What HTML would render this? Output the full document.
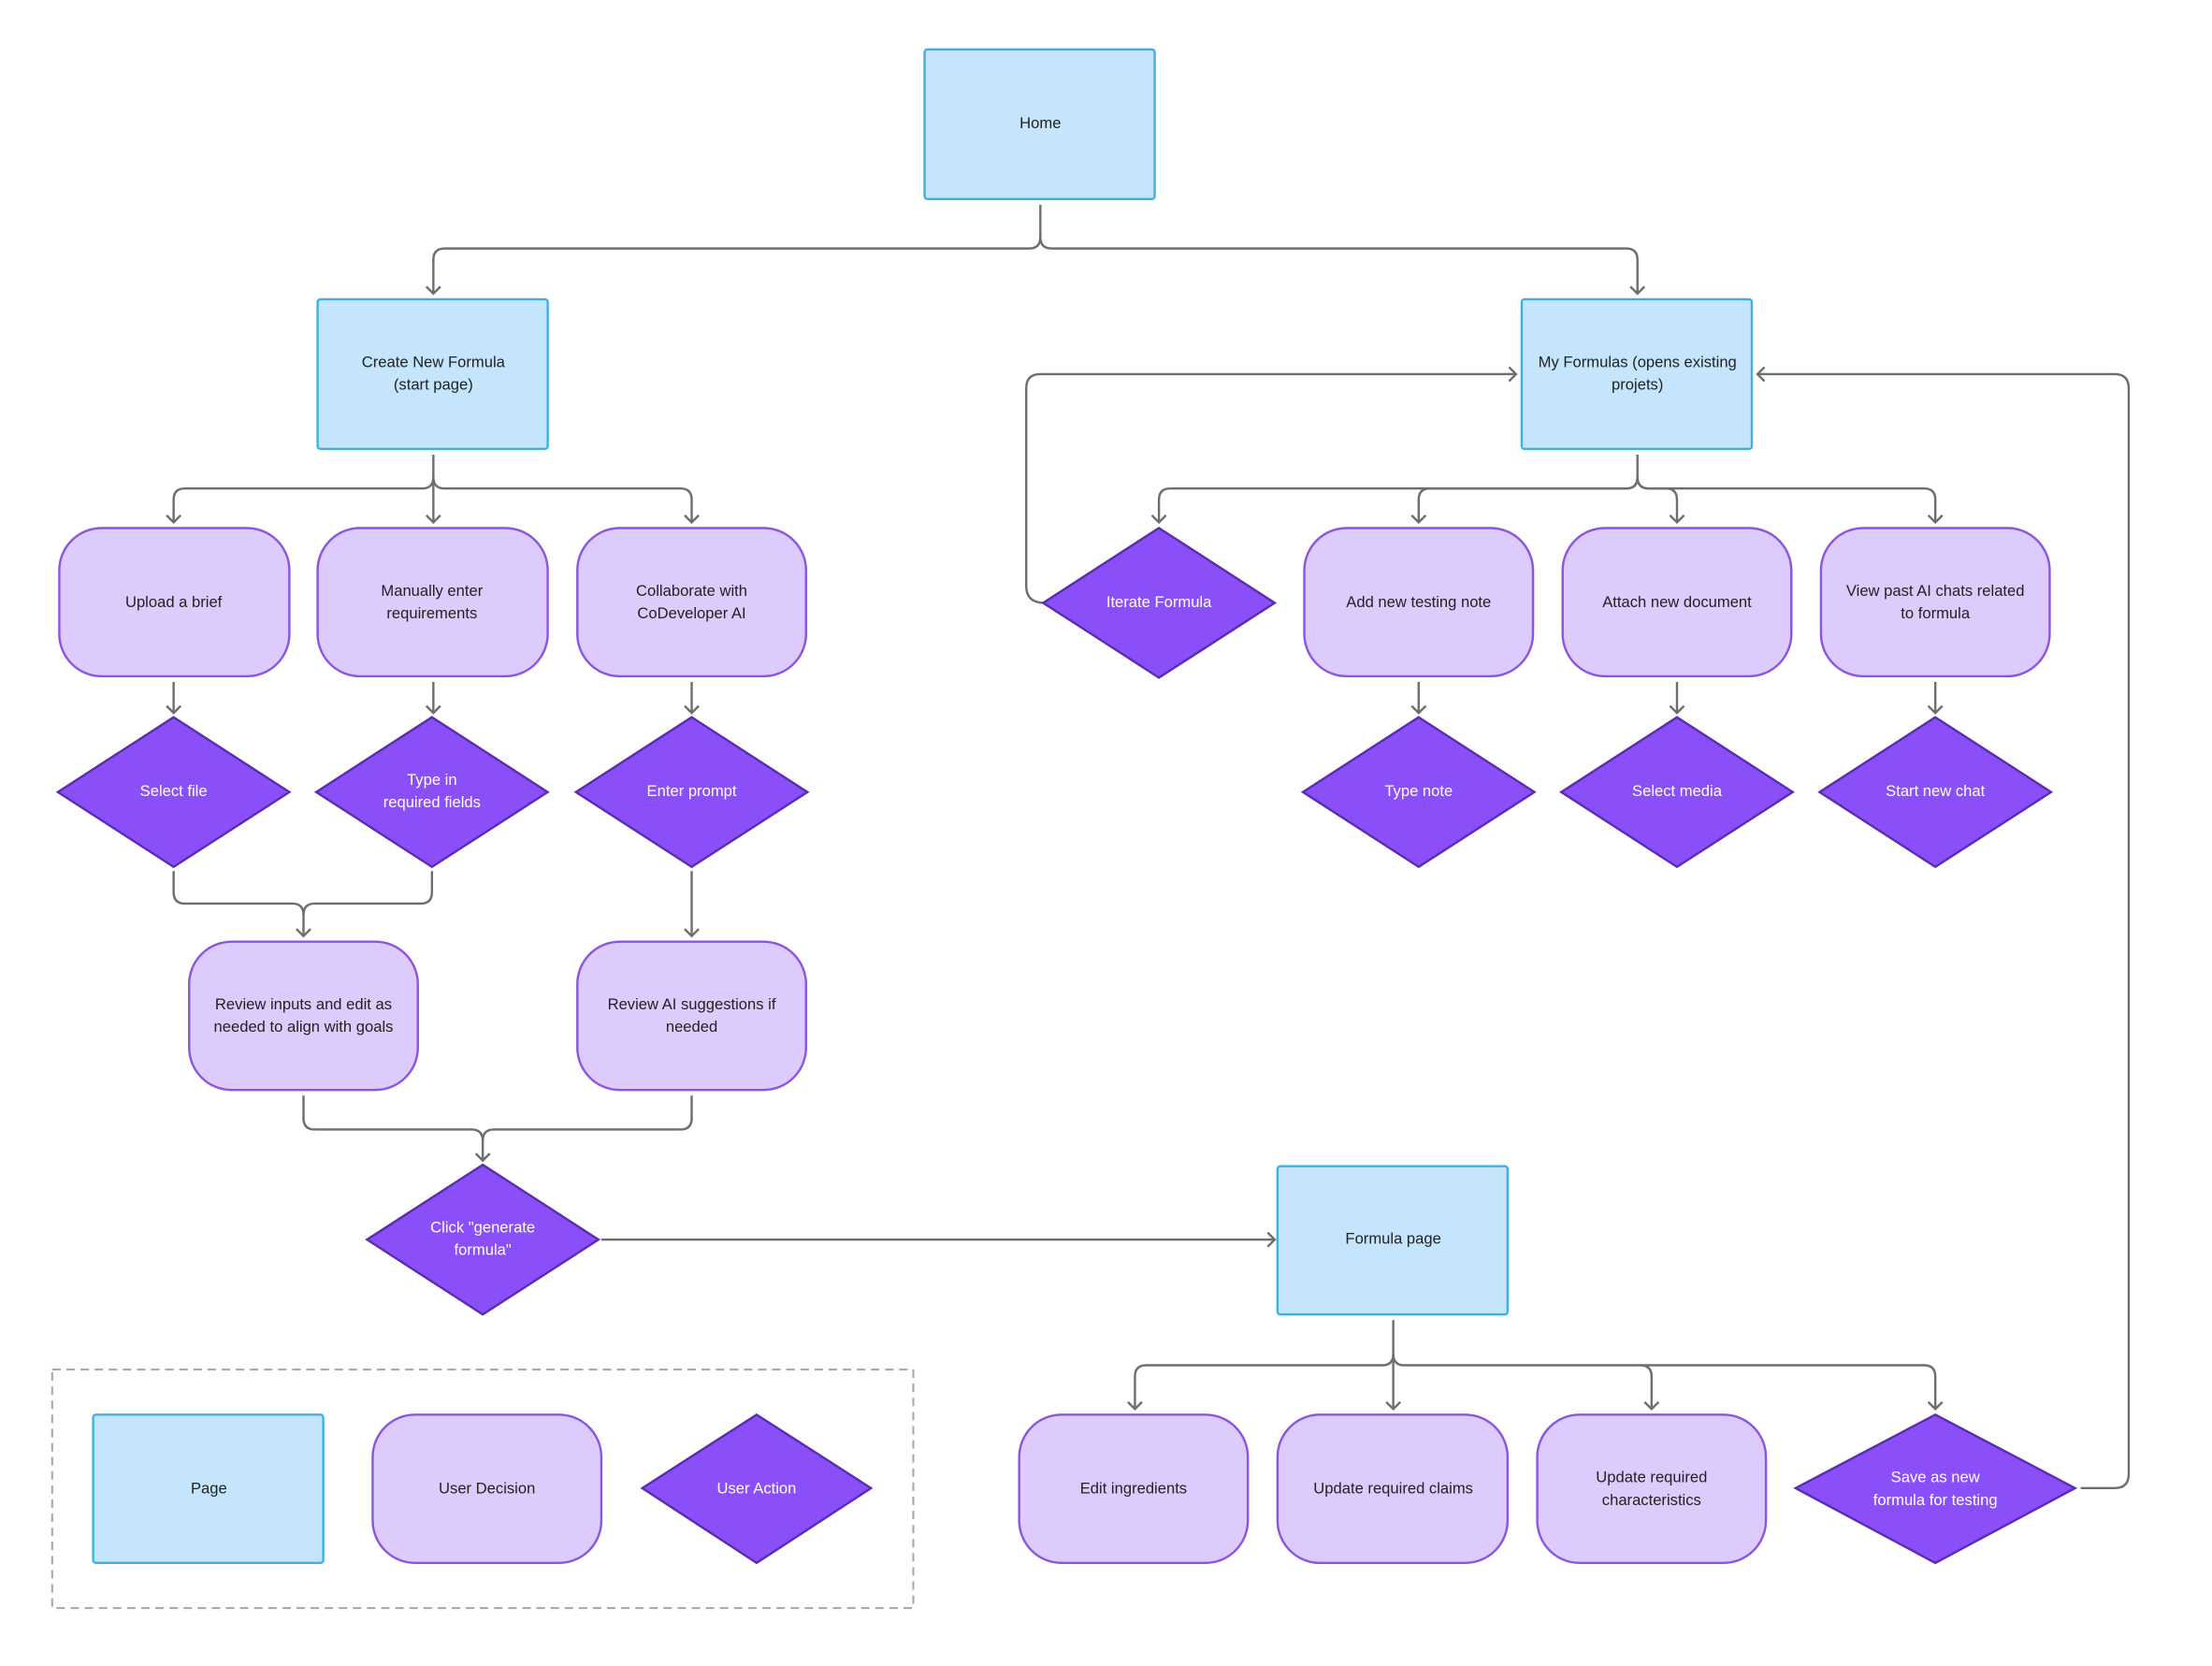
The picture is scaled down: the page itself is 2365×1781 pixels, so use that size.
<!DOCTYPE html>
<html><head><meta charset="utf-8"><style>
html,body{margin:0;padding:0;background:#fff}
svg{display:block}
text{font-family:"Liberation Sans",sans-serif;font-size:11px;text-anchor:middle;dominant-baseline:middle}
.pg{fill:#c4e5fb;stroke:#3fb0e0;stroke-width:1.6}
.dc{fill:#dccbfc;stroke:#8b55e0;stroke-width:1.6}
.ac{fill:#8a4ff8;stroke:#5a2db0;stroke-width:1.6}
.l{fill:none;stroke:#6e6e6e;stroke-width:1.6}
.dk{fill:#222}
.wt{fill:#fff}
</style></head><body>
<svg width="2365" height="1781" viewBox="0 0 1567 1180" preserveAspectRatio="none" xmlns="http://www.w3.org/2000/svg">
<defs><marker id="a" markerWidth="12" markerHeight="12" refX="6" refY="6" orient="auto" markerUnits="userSpaceOnUse"><path d="M1,1 L6,6 L1,11" fill="none" stroke="#6e6e6e" stroke-width="1.6"/></marker></defs>

<path class="l" d="M737,145 V168 Q737,176 729,176 H315 Q307,176 307,184 V208" marker-end="url(#a)"/>
<path class="l" d="M737,168 Q737,176 745,176 H1152 Q1160,176 1160,184 V208" marker-end="url(#a)"/>
<path class="l" d="M307,322 V370" marker-end="url(#a)"/>
<path class="l" d="M307,338 Q307,346 299,346 H131 Q123,346 123,354 V370" marker-end="url(#a)"/>
<path class="l" d="M307,338 Q307,346 315,346 H482 Q490,346 490,354 V370" marker-end="url(#a)"/>
<path class="l" d="M1160,322 V338 Q1160,346 1152,346 H829 Q821,346 821,354 V370" marker-end="url(#a)"/>
<path class="l" d="M1160,338 Q1160,346 1168,346 H1363 Q1371,346 1371,354 V370" marker-end="url(#a)"/>
<path class="l" d="M1160,338 Q1160,346 1152,346 H1013 Q1005,346 1005,354 V370" marker-end="url(#a)"/>
<path class="l" d="M1160,338 Q1160,346 1168,346 H1180 Q1188,346 1188,354 V370" marker-end="url(#a)"/>
<path class="l" d="M740,427 Q727,427 727,415 V275 Q727,265 737,265 H1074" marker-end="url(#a)"/>
<path class="l" d="M1474,1054 H1498 Q1508,1054 1508,1044 V275 Q1508,265 1498,265 H1245" marker-end="url(#a)"/>
<path class="l" d="M123,483 V505" marker-end="url(#a)"/>
<path class="l" d="M307,483 V505" marker-end="url(#a)"/>
<path class="l" d="M490,483 V505" marker-end="url(#a)"/>
<path class="l" d="M1005,483 V505" marker-end="url(#a)"/>
<path class="l" d="M1188,483 V505" marker-end="url(#a)"/>
<path class="l" d="M1371,483 V505" marker-end="url(#a)"/>
<path class="l" d="M123,617 V632 Q123,640 131,640 H207 Q215,640 215,648 V663" marker-end="url(#a)"/>
<path class="l" d="M306,617 V632 Q306,640 298,640 H223 Q215,640 215,648"/>
<path class="l" d="M490,617 V663" marker-end="url(#a)"/>
<path class="l" d="M215,776 V792 Q215,800 223,800 H334 Q342,800 342,808 V822" marker-end="url(#a)"/>
<path class="l" d="M490,776 V792 Q490,800 482,800 H350 Q342,800 342,808"/>
<path class="l" d="M426,878 H903" marker-end="url(#a)"/>
<path class="l" d="M987,935 V998" marker-end="url(#a)"/>
<path class="l" d="M987,959 Q987,967 979,967 H812 Q804,967 804,975 V998" marker-end="url(#a)"/>
<path class="l" d="M987,959 Q987,967 995,967 H1363 Q1371,967 1371,975 V998" marker-end="url(#a)"/>
<path class="l" d="M1162,967 Q1170,967 1170,975 V998" marker-end="url(#a)"/>

<rect class="pg" x="655" y="35" width="163" height="106" rx="2"/><text class="dk" x="737" y="88">Home</text>
<rect class="pg" x="225" y="212" width="163" height="106" rx="2"/><text class="dk" x="307" y="257">Create New Formula</text><text class="dk" x="307" y="273">(start page)</text>
<rect class="pg" x="1078" y="212" width="163" height="106" rx="2"/><text class="dk" x="1160" y="257">My Formulas (opens existing</text><text class="dk" x="1160" y="273">projets)</text>
<rect class="pg" x="905" y="826" width="163" height="105" rx="2"/><text class="dk" x="987" y="878">Formula page</text>

<g>
<rect class="dc" x="42" y="374" width="163" height="105" rx="30"/><text class="dk" x="123" y="427">Upload a brief</text>
<rect class="dc" x="225" y="374" width="163" height="105" rx="30"/><text class="dk" x="306" y="419">Manually enter</text><text class="dk" x="306" y="435">requirements</text>
<rect class="dc" x="409" y="374" width="162" height="105" rx="30"/><text class="dk" x="490" y="419">Collaborate with</text><text class="dk" x="490" y="435">CoDeveloper AI</text>
<rect class="dc" x="924" y="374" width="162" height="105" rx="30"/><text class="dk" x="1005" y="427">Add new testing note</text>
<rect class="dc" x="1107" y="374" width="162" height="105" rx="30"/><text class="dk" x="1188" y="427">Attach new document</text>
<rect class="dc" x="1290" y="374" width="162" height="105" rx="30"/><text class="dk" x="1371" y="419">View past AI chats related</text><text class="dk" x="1371" y="435">to formula</text>
<rect class="dc" x="134" y="667" width="162" height="105" rx="30"/><text class="dk" x="215" y="712">Review inputs and edit as</text><text class="dk" x="215" y="728">needed to align with goals</text>
<rect class="dc" x="409" y="667" width="162" height="105" rx="30"/><text class="dk" x="490" y="712">Review AI suggestions if</text><text class="dk" x="490" y="728">needed</text>
<rect class="dc" x="722" y="1002" width="162" height="105" rx="30"/><text class="dk" x="803" y="1055">Edit ingredients</text>
<rect class="dc" x="905" y="1002" width="163" height="105" rx="30"/><text class="dk" x="987" y="1055">Update required claims</text>
<rect class="dc" x="1089" y="1002" width="162" height="105" rx="30"/><text class="dk" x="1170" y="1047">Update required</text><text class="dk" x="1170" y="1063">characteristics</text>
</g>

<polygon class="ac" points="821,374 903,427 821,480 739,427"/><text class="wt" x="821" y="427">Iterate Formula</text>
<polygon class="ac" points="123,508 205,561 123,614 41,561"/><text class="wt" x="123" y="561">Select file</text>
<polygon class="ac" points="306,508 388,561 306,614 224,561"/><text class="wt" x="306" y="553">Type in</text><text class="wt" x="306" y="569">required fields</text>
<polygon class="ac" points="490,508 572,561 490,614 408,561"/><text class="wt" x="490" y="561">Enter prompt</text>
<polygon class="ac" points="1005,508 1087,561 1005,614 923,561"/><text class="wt" x="1005" y="561">Type note</text>
<polygon class="ac" points="1188,508 1270,561 1188,614 1106,561"/><text class="wt" x="1188" y="561">Select media</text>
<polygon class="ac" points="1371,508 1453,561 1371,614 1289,561"/><text class="wt" x="1371" y="561">Start new chat</text>
<polygon class="ac" points="342,825 424,878 342,931 260,878"/><text class="wt" x="342" y="870">Click "generate</text><text class="wt" x="342" y="886">formula"</text>
<polygon class="ac" points="1371,1002 1470,1054 1371,1107 1272,1054"/><text class="wt" x="1371" y="1047">Save as new</text><text class="wt" x="1371" y="1063">formula for testing</text>

<rect x="37" y="970" width="610" height="169" fill="none" stroke="#aaa" stroke-width="1.4" stroke-dasharray="6,4"/>
<rect class="pg" x="66" y="1002" width="163" height="105" rx="2"/><text class="dk" x="148" y="1055">Page</text>
<rect class="dc" x="264" y="1002" width="162" height="105" rx="30"/><text class="dk" x="345" y="1055">User Decision</text>
<polygon class="ac" points="536,1002 617,1054 536,1107 455,1054"/><text class="wt" x="536" y="1055">User Action</text>
</svg>
</body></html>
